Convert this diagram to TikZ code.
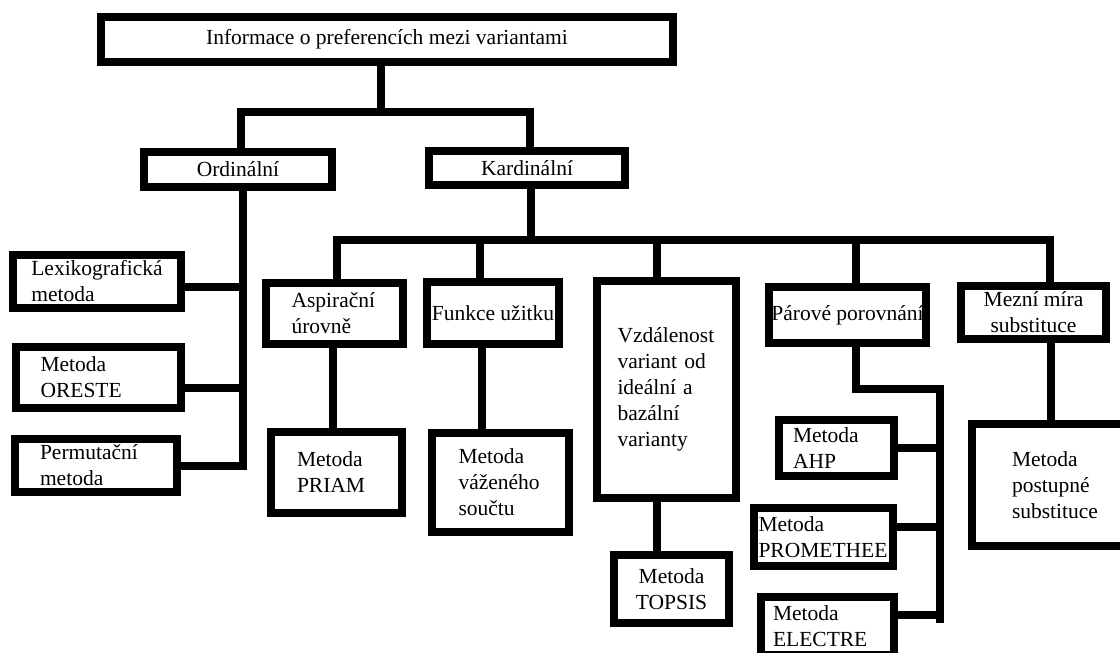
\documentclass[tikz,border=0pt]{standalone}
\usepackage{fontspec}
\setmainfont{Liberation Serif}
\tikzset{
  box/.style={draw, line width=8pt, inner sep=0pt, fill=white, align=center},
  link/.style={line width=8pt}
}

\begin{document}
\begin{tikzpicture}[x=1pt, y=-1pt, font=\fontsize{21.5}{26}\selectfont]
        \clip (0,0) rectangle (1120,653);

        % Top level
        \node[box, minimum width=572, minimum height=45] (info) at (387,39.5) {Informace o preferencích mezi variantami};
        \node[box, minimum width=188, minimum height=35] (ord)  at (238,169.5) {Ordinální};
        \node[box, minimum width=196, minimum height=34] (kard) at (527,168) {Kardinální};

        % Ordinal methods
        \node[box, minimum width=168, minimum height=53, align=left] (lex) at (97,281.5) {Lexikografická\\metoda};
        \node[box, minimum width=165, minimum height=61, align=left, text width=116] (ores) at (98.5,377.5) {Metoda\\ORESTE};
        \node[box, minimum width=162, minimum height=53, align=left, text width=112] (perm) at (96,465.5) {Permutační\\metoda};

        % Cardinal groups
        \node[box, minimum width=137, minimum height=61, align=left, text width=86] (asp) at (334.5,313.5) {Aspirační\\úrovně};
        \node[box, minimum width=132, minimum height=62] (fun) at (493,313) {Funkce užitku};
        \node[box, minimum width=139, minimum height=217, align=left, text width=98] (vzd) at (666.5,389.5) {Vzdálenost\\variant od\\ideální a\\bazální\\varianty};
        \node[box, minimum width=157, minimum height=56] (par) at (847.5,315) {Párové porovnání};
        \node[box, minimum width=145, minimum height=53] (mez) at (1033.5,312.5) {Mezní míra\\substituce};

        % Cardinal methods
        \node[box, minimum width=131, minimum height=81, align=left, text width=79] (priam) at (336.5,472.5) {Metoda\\PRIAM};
        \node[box, minimum width=137, minimum height=99, align=left, text width=84] (vaz) at (500.5,482.5) {Metoda\\váženého\\součtu};
        \node[box, minimum width=115, minimum height=68] (topsis) at (671.5,589) {Metoda\\TOPSIS};
        \node[box, minimum width=115, minimum height=56, align=left, text width=87] (ahp) at (836.5,448) {Metoda\\AHP};
        \node[box, minimum width=139, minimum height=58, align=left, text width=130] (prom) at (823.5,537) {Metoda\\PROMETHEE};
        \node[box, minimum width=133, minimum height=58, align=left, text width=109] (ele) at (827.5,626) {Metoda\\ELECTRE};
        \node[box, minimum width=166, minimum height=122, align=left] (post) at (1055,485) {Metoda\\postupné\\substituce};

        % Junctions
        \coordinate (split) at (381,112);
        \coordinate (ordspine) at (243,0);
        \coordinate (bus) at (0,240);
        \coordinate (pairs) at (940,389);
        \coordinate (pairsend) at (940,623);

        % Links
        \draw[link] (info.south -| split) -- (split);
        \draw[link] ([xshift=3pt]ord.north) |- (split) -| ([xshift=3pt]kard.north);

        \draw[link] (ord.south -| ordspine) |- (perm.east);
        \draw[link] ([yshift=-5pt]lex.east) -- ([yshift=-5pt]lex.east -| ordspine);
        \draw[link] ([yshift=-10pt]ores.east) -- ([yshift=-10pt]ores.east -| ordspine);

        \draw[link] ([xshift=4pt]kard.south) -- ([xshift=4pt]kard.south |- bus);
        \draw[link] ([xshift=2pt]asp.north) |- ([xshift=16pt]mez.north |- bus) -- ([xshift=16pt]mez.north);
        \foreach \n/\dx in {fun/-13, vzd/-10, par/8}
            \draw[link] ([xshift=\dx pt]\n.north) -- ([xshift=\dx pt]\n.north |- bus);

        \draw[link] ([xshift=-2pt]asp.south) -- ([xshift=-2pt]asp.south |- priam.north);
        \draw[link] ([xshift=-11pt]fun.south) -- ([xshift=-11pt]fun.south |- vaz.north);
        \draw[link] ([xshift=-10pt]vzd.south) -- ([xshift=-10pt]vzd.south |- topsis.north);
        \draw[link] ([xshift=17pt]mez.south) -- ([xshift=17pt]mez.south |- post.north);

        \draw[link] ([xshift=8pt]par.south) |- (pairs) -- (pairsend);
        \draw[link] (ahp.east) -- (ahp.east -| pairs);
        \draw[link] ([yshift=10pt]prom.east) -- ([yshift=10pt]prom.east -| pairs);
        \draw[link] ([yshift=11pt]ele.east) -- ([yshift=11pt]ele.east -| pairs);
    \end{tikzpicture}
\end{document}
